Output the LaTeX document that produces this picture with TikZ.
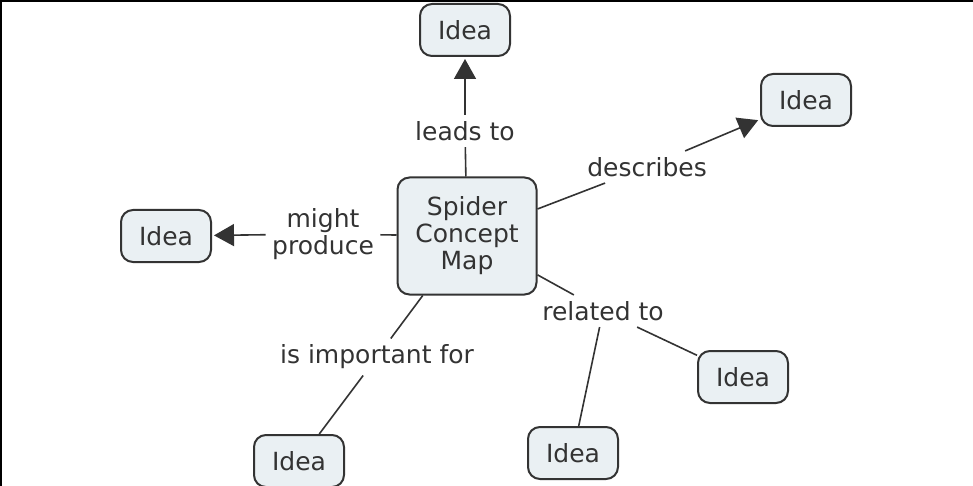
\documentclass[tikz,border=0pt]{standalone}
\usepackage{fontspec}
\setmainfont{DejaVu Sans}
\usetikzlibrary{arrows.meta}

\definecolor{boxfill}{HTML}{EAF0F3}
\definecolor{ink}{HTML}{333333}

\tikzset{
  concept/.style={draw=ink, line width=1pt, fill=boxfill, rounded corners=6pt,
    text=ink, minimum width=45pt, minimum height=26pt, align=center},
  linkword/.style={text=ink, inner sep=3pt, align=center},
  link/.style={draw=ink, line width=0.8pt},
  arrow/.style={link, shorten >=1pt, -{Triangle[length=10pt, width=11pt]}}
}

\begin{document}
\begin{tikzpicture}[x=0.5pt, y=-0.5pt, font=\fontsize{12.5}{13.5}\selectfont]
  \useasboundingbox (0,0) rectangle (973,486);
  \draw[line width=1.25pt] (0,1) -- (973,1);
  \draw[line width=1.25pt] (1,0) -- (1,486);

  \node[concept, minimum width=69.5pt, minimum height=58.5pt] (spider) at (467,236) {Spider\\Concept\\Map};

  \node[concept] (up) at (465,30) {Idea};
  \node[concept] (right) at (806,100) {Idea};
  \node[concept] (left) at (166,236) {Idea};
  \node[concept] (downleft) at (299,461) {Idea};
  \node[concept] (downmid) at (573,453) {Idea};
  \node[concept] (downright) at (743,377) {Idea};

  \node[linkword] (leads) at (465,131) {leads to};
  \node[linkword] (describes) at (647,167) {describes};
  \node[linkword] (produce) at (323,234) {might\\produce};
  \node[linkword] (important) at (377,357) {is important for};
  \node[linkword] (related) at (603,311) {related to};

  \draw[link] (spider) -- (leads);
  \draw[arrow] (leads) -- (up);
  \draw[link] (spider) -- (describes);
  \draw[arrow] (describes) -- (right);
  \draw[link] (spider) -- (produce);
  \draw[arrow] (produce) -- (left);
  \draw[link] (spider) -- (important);
  \draw[link] (important) -- (downleft);
  \draw[link] (spider) -- (related);
  \draw[link] (related) -- (downmid);
  \draw[link] (related) -- (downright);
\end{tikzpicture}
\end{document}
